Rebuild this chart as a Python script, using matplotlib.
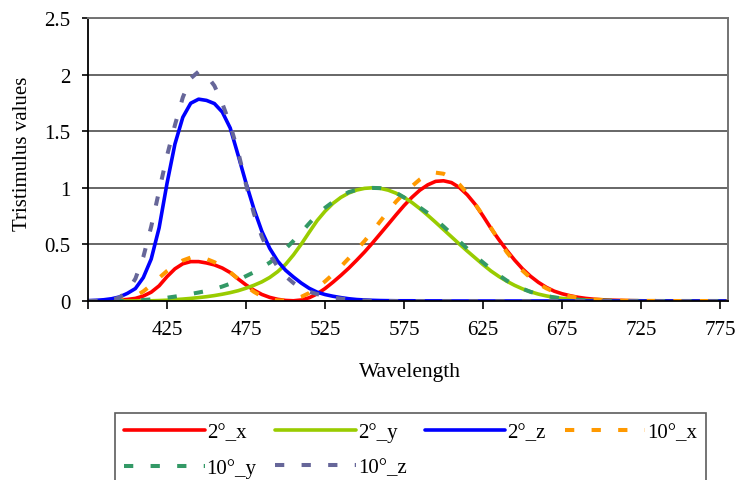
import numpy as np
import matplotlib
matplotlib.use("Agg")
import matplotlib.pyplot as plt

plt.rcParams['font.family'] = ['Liberation Serif', 'DejaVu Serif']

# wavelength categories, 5 nm steps
wavelength = np.arange(375, 785, 5)

# 2 degree observer
x2 = [0.001, 0.001, 0.002, 0.004, 0.008, 0.014, 0.023, 0.044, 0.078, 0.134,
      0.215, 0.284, 0.329, 0.348, 0.348, 0.336, 0.319, 0.291, 0.251, 0.195,
      0.142, 0.096, 0.058, 0.032, 0.015, 0.005, 0.002, 0.009, 0.029, 0.063,
      0.110, 0.166, 0.226, 0.290, 0.360, 0.433, 0.512, 0.595, 0.678, 0.762,
      0.843, 0.916, 0.979, 1.026, 1.057, 1.062, 1.046, 1.003, 0.938, 0.854,
      0.751, 0.642, 0.542, 0.448, 0.361, 0.284, 0.219, 0.165, 0.121, 0.087,
      0.064, 0.047, 0.033, 0.023, 0.016, 0.011, 0.008, 0.006, 0.004, 0.003,
      0.002, 0.001, 0.001, 0.001, 0, 0, 0, 0, 0, 0,
      0, 0]
y2 = [0, 0, 0, 0, 0, 0, 0.001, 0.001, 0.002, 0.004,
      0.007, 0.012, 0.017, 0.023, 0.030, 0.038, 0.048, 0.060, 0.074, 0.091,
      0.113, 0.139, 0.169, 0.208, 0.259, 0.323, 0.407, 0.503, 0.608, 0.710,
      0.793, 0.862, 0.915, 0.954, 0.980, 0.995, 1.000, 0.995, 0.979, 0.952,
      0.915, 0.870, 0.816, 0.757, 0.695, 0.631, 0.567, 0.503, 0.441, 0.381,
      0.321, 0.265, 0.217, 0.175, 0.138, 0.107, 0.082, 0.061, 0.045, 0.032,
      0.023, 0.017, 0.012, 0.008, 0.006, 0.004, 0.003, 0.002, 0.001, 0.001,
      0.001, 0.001, 0, 0, 0, 0, 0, 0, 0, 0,
      0, 0]
z2 = [0.003, 0.006, 0.011, 0.020, 0.036, 0.068, 0.110, 0.207, 0.371, 0.646,
      1.039, 1.386, 1.623, 1.747, 1.783, 1.772, 1.744, 1.669, 1.528, 1.288,
      1.042, 0.813, 0.616, 0.465, 0.353, 0.272, 0.212, 0.158, 0.112, 0.078,
      0.057, 0.042, 0.030, 0.020, 0.013, 0.009, 0.006, 0.004, 0.003, 0.002,
      0.002, 0.002, 0.001, 0.001, 0.001, 0.001, 0, 0, 0, 0,
      0, 0, 0, 0, 0, 0, 0, 0, 0, 0,
      0, 0, 0, 0, 0, 0, 0, 0, 0, 0,
      0, 0, 0, 0, 0, 0, 0, 0, 0, 0,
      0, 0]

# 10 degree observer
x10 = [0, 0, 0.001, 0.002, 0.007, 0.019, 0.043, 0.085, 0.141, 0.204,
       0.265, 0.315, 0.358, 0.384, 0.387, 0.371, 0.343, 0.302, 0.254, 0.196,
       0.132, 0.081, 0.041, 0.016, 0.005, 0.004, 0.015, 0.037, 0.071, 0.118,
       0.173, 0.236, 0.304, 0.377, 0.452, 0.530, 0.616, 0.705, 0.794, 0.879,
       0.951, 1.014, 1.074, 1.119, 1.134, 1.124, 1.089, 1.030, 0.951, 0.856,
       0.755, 0.647, 0.535, 0.432, 0.344, 0.268, 0.204, 0.153, 0.112, 0.081,
       0.058, 0.041, 0.029, 0.020, 0.014, 0.010, 0.007, 0.005, 0.003, 0.002,
       0.002, 0.001, 0.001, 0.001, 0, 0, 0, 0, 0, 0,
       0, 0]
y10 = [0, 0, 0, 0, 0.001, 0.002, 0.005, 0.009, 0.014, 0.021,
       0.029, 0.039, 0.050, 0.062, 0.075, 0.089, 0.106, 0.128, 0.153, 0.185,
       0.220, 0.254, 0.298, 0.339, 0.395, 0.461, 0.531, 0.607, 0.686, 0.762,
       0.823, 0.875, 0.924, 0.962, 0.982, 0.992, 0.999, 0.997, 0.982, 0.956,
       0.915, 0.869, 0.826, 0.777, 0.720, 0.658, 0.594, 0.528, 0.462, 0.398,
       0.340, 0.283, 0.228, 0.180, 0.140, 0.108, 0.081, 0.060, 0.044, 0.032,
       0.023, 0.016, 0.011, 0.008, 0.005, 0.004, 0.003, 0.002, 0.001, 0.001,
       0.001, 0.001, 0, 0, 0, 0, 0, 0, 0, 0,
       0, 0]
z10 = [0, 0.001, 0.003, 0.010, 0.032, 0.086, 0.197, 0.389, 0.657, 0.973,
       1.283, 1.553, 1.799, 1.967, 2.027, 1.995, 1.901, 1.745, 1.555, 1.318,
       1.030, 0.772, 0.570, 0.415, 0.302, 0.219, 0.159, 0.112, 0.082, 0.061,
       0.043, 0.030, 0.021, 0.014, 0.008, 0.004, 0.001, 0, 0, 0,
       0, 0, 0, 0, 0, 0, 0, 0, 0, 0,
       0, 0, 0, 0, 0, 0, 0, 0, 0, 0,
       0, 0, 0, 0, 0, 0, 0, 0, 0, 0,
       0, 0, 0, 0, 0, 0, 0, 0, 0, 0,
       0, 0]

x_ticks = [375, 425, 475, 525, 575, 625, 675, 725, 775]
x_ticklabels = ['', '425', '475', '525', '575', '625', '675', '725', '775']
y_ticks = [0, 0.5, 1, 1.5, 2, 2.5]
y_ticklabels = ['0', '0.5', '1', '1.5', '2', '2.5']

fs = 15
W, H = 742, 481
fig = plt.figure(figsize=(W / 100, H / 100), dpi=100)
ax = fig.add_axes([88 / W, 1 - 302 / H, (728 - 88) / W, (302 - 19) / H])

solid = dict(lw=2.6, solid_capstyle='round', solid_joinstyle='round')
dash = dict(lw=2.9, dashes=(2.3, 4.3), dash_joinstyle='round')
l_x2, = ax.plot(wavelength, x2, color='#FF0000', label='2°_x', **solid)
l_y2, = ax.plot(wavelength, y2, color='#99CC00', label='2°_y', **solid)
l_z2, = ax.plot(wavelength, z2, color='#0000FF', label='2°_z', **solid)
l_x10, = ax.plot(wavelength, x10, color='#FF9900', label='10°_x', **dash)
l_y10, = ax.plot(wavelength, y10, color='#339966', label='10°_y', **dash)
l_z10, = ax.plot(wavelength, z10, color='#666699', label='10°_z', **dash)

ax.set_xlim(375, 780)
ax.set_ylim(0, 2.5)
ax.set_xticks(x_ticks)
ax.set_xticklabels(x_ticklabels)
ax.set_yticks(y_ticks)
ax.set_yticklabels(y_ticklabels)
ax.tick_params(axis='x', length=6, width=1.2, pad=8, labelsize=fs)
ax.tick_params(axis='y', length=4.5, width=1.2, pad=8, labelsize=fs)

ax.set_axisbelow(True)
ax.yaxis.grid(True, color='0.4', lw=1.4)
for side in ['left', 'bottom']:
    ax.spines[side].set_color('black')
    ax.spines[side].set_linewidth(1.3)
for side in ['right', 'top']:
    ax.spines[side].set_color('0.45')
    ax.spines[side].set_linewidth(1.4)

fig.text(22.5 / W, 1 - 154 / H, 'Tristimulus values', rotation=90,
         ha='center', va='center', fontsize=fs)
fig.text(410 / W, 1 - 373 / H, 'Wavelength', ha='center', va='center',
         fontsize=fs + 0.5)

# legend is filled row-wise in the reference, matplotlib fills by column
handles = [l_x2, l_y10, l_y2, l_z10, l_z2, l_x10]
leg = fig.legend(handles=handles, labels=[h.get_label() for h in handles],
                 loc='upper left', bbox_to_anchor=(115 / W, 1 - 414 / H),
                 ncol=4, fontsize=fs, frameon=True, fancybox=False,
                 edgecolor='0.2', borderpad=0.45, handlelength=3.85,
                 handletextpad=0.1, columnspacing=0.9, labelspacing=0.75,
                 borderaxespad=0)
leg.get_frame().set_linewidth(1.2)

fig.savefig('out.png', dpi=100)
